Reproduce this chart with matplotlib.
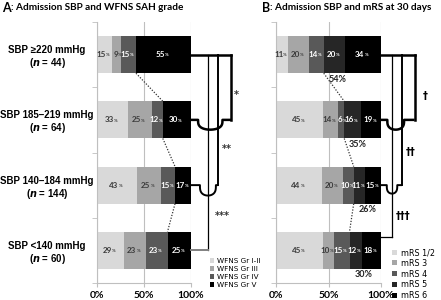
import numpy as np
import matplotlib
matplotlib.use("Agg")
import matplotlib.pyplot as plt
from matplotlib.patches import Patch

# ---- data ----
sbp_groups = ["SBP \u2265220 mmHg", "SBP 185\u2013219 mmHg", "SBP 140\u2013184 mmHg", "SBP <140 mmHg"]
group_n = [44, 64, 144, 60]

wfns_names = ["WFNS Gr I-II", "WFNS Gr III", "WFNS Gr IV", "WFNS Gr V"]
wfns_12 = [15, 33, 43, 29]
wfns_3 = [9, 25, 25, 23]
wfns_4 = [15, 12, 15, 23]
wfns_5 = [55, 30, 17, 25]

mrs_names = ["mRS 1/2", "mRS 3", "mRS 4", "mRS 5", "mRS 6"]
mrs_12 = [11, 45, 44, 45]
mrs_3 = [20, 14, 20, 10]
mrs_4 = [14, 6, 10, 15]
mrs_5 = [20, 16, 11, 12]
mrs_6 = [34, 19, 15, 18]

wfns_cols = ["#d9d9d9", "#a6a6a6", "#595959", "#000000"]
mrs_cols = ["#d9d9d9", "#a6a6a6", "#595959", "#262626", "#000000"]

LAB = "Liberation Sans"
TIT = "Lato"
GRID = "#bfbfbf"

fig = plt.figure(figsize=(4.41, 3.0), dpi=100)
axA = fig.add_axes([97/441, 17/300, 94/441, 261/300])
axB = fig.add_axes([276/441, 17/300, 105/441, 261/300])

ypos = np.arange(len(sbp_groups))
bar_h = 0.57


def stacked(ax, series, cols):
    vals = np.array(series, dtype=float).T          # rows = groups
    pct = vals / vals.sum(axis=1, keepdims=True) * 100
    left = np.zeros(len(ypos))
    for j in range(pct.shape[1]):
        ax.barh(ypos, pct[:, j], left=left, height=bar_h, color=cols[j], zorder=2)
        tc = "#3a3a3a" if j < 2 else "white"
        for i in range(len(ypos)):
            xc = left[i] + pct[i, j] / 2
            ax.annotate(f"{int(vals[i, j])}", (xc, ypos[i]), xytext=(1.0, 0),
                        textcoords="offset points", ha="right", va="center",
                        fontsize=5.8, fontweight="bold", color=tc, family=TIT, zorder=3)
            ax.annotate("%", (xc, ypos[i]), xytext=(1.0, -0.6),
                        textcoords="offset points", ha="left", va="center",
                        fontsize=3.2, fontweight="bold", color=tc, family=TIT, zorder=3)
        left += pct[:, j]
    return pct


def style(ax):
    ax.set_xlim(0, 100)
    ax.set_ylim(3.5, -0.5)
    ax.set_xticks([0, 50, 100])
    ax.set_xticklabels(["0%", "50%", "100%"], fontsize=7.5, fontweight="bold", family=TIT)
    ax.set_yticks(ypos)
    ax.set_yticklabels([])
    ax.set_yticks(np.arange(-0.5, 4, 1), minor=True)
    ax.tick_params(axis="y", which="major", length=0)
    ax.tick_params(axis="y", which="minor", length=3.5, color=GRID, direction="out")
    ax.tick_params(axis="x", length=3, color=GRID, direction="out", pad=3)
    for s in ["top", "right"]:
        ax.spines[s].set_visible(False)
    for s in ["left", "bottom"]:
        ax.spines[s].set_color(GRID)
        ax.spines[s].set_linewidth(0.8)
    ax.xaxis.grid(True, color=GRID, lw=0.8, zorder=0)
    ax.set_axisbelow(True)


def connect(ax, pct, last_k):
    start = 100 - pct[:, -last_k:].sum(axis=1)
    for i in range(len(ypos) - 1):
        ax.plot([start[i], start[i + 1]], [ypos[i] + bar_h/2, ypos[i + 1] - bar_h/2],
                ls=(0, (1, 1.3)), color="#333333", lw=0.9, clip_on=False, zorder=4)
    return start


def hop_line(ax, y, x0, x1, hops, lw, color="black"):
    xs, ys = [x0], [y]
    for hc, hw, depth in hops:
        t = np.linspace(np.pi, 0, 25)
        xs += list(hc + hw * np.cos(t))
        ys += list(y + depth * np.sin(t) ** 0.6)
    xs.append(x1)
    ys.append(y)
    ax.plot(xs, ys, color=color, lw=lw, clip_on=False, solid_capstyle="butt", zorder=4)


# ---- panel A ----
pctA = stacked(axA, [wfns_12, wfns_3, wfns_4, wfns_5], wfns_cols)
style(axA)
connect(axA, pctA, 1)

for i, (g, n) in enumerate(zip(sbp_groups, group_n)):
    axA.text(-53, ypos[i] - 0.07, g, ha="center", va="center", fontsize=7,
             fontweight="bold", family=LAB, clip_on=False)
    axA.text(-53, ypos[i] + 0.13, f"($\\mathbfit{{n}}$ = {n})", ha="center", va="center",
             fontsize=7, fontweight="bold", family=LAB, clip_on=False)

# brackets A
axA.plot([100, 143], [0, 0], color="black", lw=1.8, clip_on=False, zorder=4)
axA.plot([143, 143], [0, 1], color="black", lw=1.8, clip_on=False, zorder=4)
axA.plot([129, 129], [0, 2], color="black", lw=1.4, clip_on=False, zorder=4)
axA.plot([118, 118], [0, 3], color="black", lw=0.9, clip_on=False, zorder=4)
hop_line(axA, 1, 100, 143, [(120.5, 13, 0.15)], 1.8)
hop_line(axA, 2, 100, 129, [(118, 8.5, 0.16)], 1.4)
axA.plot([100, 118], [3, 3], color="#808080", lw=1.4, clip_on=False, zorder=4)
axA.text(148, 0.62, "*", ha="center", va="center", fontsize=7, fontweight="bold", color="#333333")
axA.text(138, 1.45, "**", ha="center", va="center", fontsize=7, fontweight="bold", color="#333333")
axA.text(133, 2.48, "***", ha="center", va="center", fontsize=7, fontweight="bold", color="#333333")

hA = [Patch(facecolor=c, edgecolor="none") for c in wfns_cols]
fig.legend(hA, wfns_names, loc="upper left", bbox_to_anchor=(210/441, 1 - 258/300),
           frameon=False, handlelength=0.6, handleheight=0.6,
           handletextpad=0.4, labelspacing=0.28, borderpad=0, borderaxespad=0,
           prop={"family": "Liberation Sans Narrow", "size": 5.2})

# ---- panel B ----
pctB = stacked(axB, [mrs_12, mrs_3, mrs_4, mrs_5, mrs_6], mrs_cols)
style(axB)
startB = connect(axB, pctB, 2)
poor = np.array(mrs_5) + np.array(mrs_6)
for i in range(len(ypos)):
    axB.text(startB[i] + 13, ypos[i] + bar_h/2 + 0.02, f"{poor[i]}%", ha="center", va="top",
             fontsize=6.5, fontweight="bold", family=TIT, color="#222222")

axB.plot([100, 132], [0, 0], color="black", lw=1.8, clip_on=False, zorder=4)
axB.plot([132, 132], [0, 1], color="black", lw=1.8, clip_on=False, zorder=4)
axB.plot([120, 120], [0, 2], color="black", lw=1.4, clip_on=False, zorder=4)
axB.plot([110, 110], [0, 2.8], color="black", lw=0.9, clip_on=False, zorder=4)
hop_line(axB, 1, 100, 132, [(114, 8, 0.15)], 1.8)
hop_line(axB, 2, 100, 120, [(110.5, 5, 0.13)], 1.4)
axB.plot([100, 110], [2.8, 2.8], color="black", lw=0.9, clip_on=False, zorder=4)
axB.text(142, 0.63, "\u2020", ha="center", va="center", fontsize=7, fontweight="bold")
axB.text(128, 1.5, "\u2020\u2020", ha="center", va="center", fontsize=7, fontweight="bold")
axB.text(121, 2.48, "\u2020\u2020\u2020", ha="center", va="center", fontsize=7, fontweight="bold")

hB = [Patch(facecolor=c, edgecolor="none") for c in mrs_cols]
fig.legend(hB, mrs_names, loc="upper left", bbox_to_anchor=(392/441, 1 - 248/300),
           frameon=False, handlelength=0.6, handleheight=0.6,
           handletextpad=0.5, labelspacing=0.22, borderpad=0, borderaxespad=0,
           prop={"family": "Liberation Sans Narrow", "size": 5.8})

# ---- titles ----
fig.canvas.draw()
r = fig.canvas.get_renderer()
for x0, letter, rest in [(2, "A", ": Admission SBP and WFNS SAH grade"),
                         (262, "B", ": Admission SBP and mRS at 30 days")]:
    t = fig.text(x0/441, 1 - 8/300, letter, fontsize=9, fontweight="bold",
                 family=TIT, va="center", ha="left")
    bb = t.get_window_extent(r)
    fig.text(bb.x1/441, 1 - 8/300, rest, fontsize=7.2, fontweight="bold",
             family=TIT, va="center", ha="left")

fig.savefig("out.png", dpi=100)
